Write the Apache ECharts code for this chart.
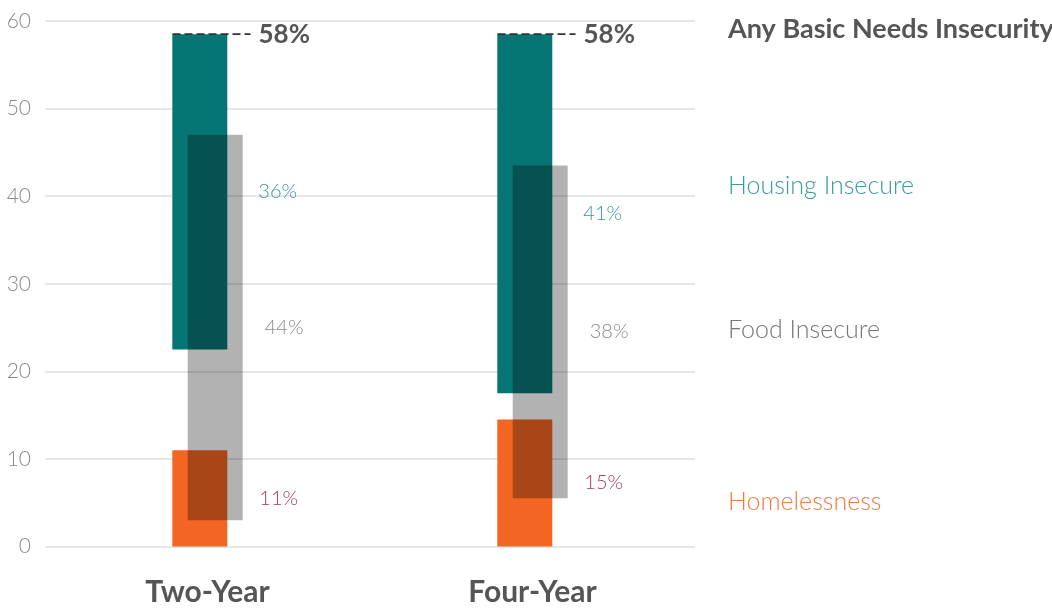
<!DOCTYPE html>
<html>
<head>
<meta charset="utf-8">
<script src="https://cdn.jsdelivr.net/npm/echarts@6/dist/echarts.min.js"></script>
<style>
  html, body { margin: 0; padding: 0; background: #fff; }
  #main { width: 1052px; height: 609px; }
</style>
</head>
<body>
<div id="main"></div>
<script>
var categories = ['Two-Year', 'Four-Year'];
// 柱子的起止值
var homelessTop = [11, 14.5];
var housingLow = [22.5, 17.5];
var housingHigh = [58.5, 58.5];
var foodLow = [3, 5.5];
var foodHigh = [47, 43.5];
// 标签上的百分比
var homelessPct = [11, 15];
var housingPct = [36, 41];
var foodPct = [44, 38];
var anyPct = [58, 58];
var yTicks = [0, 10, 20, 30, 40, 50, 60];

var FONT = 'Lato';
var TEAL = '#067675';
var ORANGE = '#f26522';

var myChart = echarts.init(document.getElementById('main'));

var gapData = [], housingData = [], foodBase = [], foodData = [];
for (var i = 0; i < categories.length; i++) {
    gapData.push(housingLow[i] - homelessTop[i]);
    housingData.push(housingHigh[i] - housingLow[i]);
    foodBase.push(foodLow[i]);
    foodData.push(foodHigh[i] - foodLow[i]);
}
var anyData = [];
for (var j = 0; j < categories.length; j++) {
    anyData.push([j, housingHigh[j], anyPct[j]]);
}

function pctLabel(arr, color, dist) {
    return {
        show: true,
        position: 'right',
        distance: dist,
        formatter: function (p) { return arr[p.dataIndex] + '%'; },
        color: color,
        fontFamily: FONT,
        fontWeight: 300,
        fontSize: 20
    };
}

var option = {
    animation: false,
    grid: { left: 45, right: 357, top: 21, bottom: 62.5 },
    xAxis: {
        type: 'category',
        data: categories,
        axisLine: { show: false },
        axisTick: { show: false },
        axisLabel: {
            margin: 31,
            color: '#555',
            fontFamily: FONT,
            fontWeight: 'bold',
            fontSize: 30
        }
    },
    yAxis: {
        type: 'value',
        min: 0,
        max: 60,
        interval: 10,
        axisLine: { show: false },
        axisTick: { show: false },
        axisLabel: {
            margin: 14,
            color: '#8a8a8a',
            fontFamily: FONT,
            fontWeight: 300,
            fontSize: 21,
            formatter: function (v) { return yTicks.indexOf(v) >= 0 ? String(v) : ''; }
        },
        splitLine: { lineStyle: { color: '#e6e6e6', width: 2 } }
    },
    series: [
        {
            name: 'Homelessness',
            type: 'bar',
            stack: 'a',
            barWidth: 55,
            barGap: '-72%',
            data: homelessTop,
            itemStyle: { color: ORANGE },
            label: pctLabel(homelessPct, '#a33d5e', 32)
        },
        {
            type: 'bar',
            stack: 'a',
            barWidth: 55,
            barGap: '-72%',
            data: gapData,
            itemStyle: { color: 'transparent' }
        },
        {
            name: 'Housing Insecure',
            type: 'bar',
            stack: 'a',
            barWidth: 55,
            barGap: '-72%',
            data: housingData,
            itemStyle: { color: TEAL },
            label: pctLabel(housingPct, '#3a9896', 31)
        },
        {
            type: 'bar',
            stack: 'b',
            barWidth: 55,
            barGap: '-72%',
            data: foodBase,
            itemStyle: { color: 'transparent' }
        },
        {
            name: 'Food Insecure',
            type: 'bar',
            stack: 'b',
            barWidth: 55,
            barGap: '-72%',
            data: foodData,
            itemStyle: { color: 'rgba(0,0,0,0.3)' },
            label: pctLabel(foodPct, '#8a8a8a', 22)
        },
        {
            // 58% 虚线和标签
            type: 'custom',
            z: 10,
            data: anyData,
            renderItem: function (params, api) {
                var p = api.coord([api.value(0), api.value(1)]);
                return {
                    type: 'group',
                    children: [
                        {
                            type: 'line',
                            shape: { x1: p[0] - 35, y1: p[1], x2: p[0] + 43, y2: p[1] },
                            style: { stroke: '#333', lineWidth: 1.6, lineDash: [8, 4] }
                        },
                        {
                            type: 'text',
                            x: p[0] + 51,
                            y: p[1],
                            style: {
                                text: api.value(2) + '%',
                                fill: '#555',
                                font: 'bold 26px ' + FONT,
                                textVerticalAlign: 'middle'
                            }
                        }
                    ]
                };
            }
        }
    ],
    graphic: [
        { type: 'text', left: 728, top: 16, style: { text: 'Any Basic Needs Insecurity', fill: '#555', font: 'bold 27px ' + FONT } },
        { type: 'text', left: 728, top: 173, style: { text: 'Housing Insecure', fill: '#3a9d9a', font: '300 25px ' + FONT } },
        { type: 'text', left: 728, top: 317, style: { text: 'Food Insecure', fill: '#777', font: '300 25px ' + FONT } },
        { type: 'text', left: 728, top: 489, style: { text: 'Homelessness', fill: '#f47a40', font: '300 25px ' + FONT } }
    ]
};
myChart.setOption(option);
</script>
</body>
</html>
